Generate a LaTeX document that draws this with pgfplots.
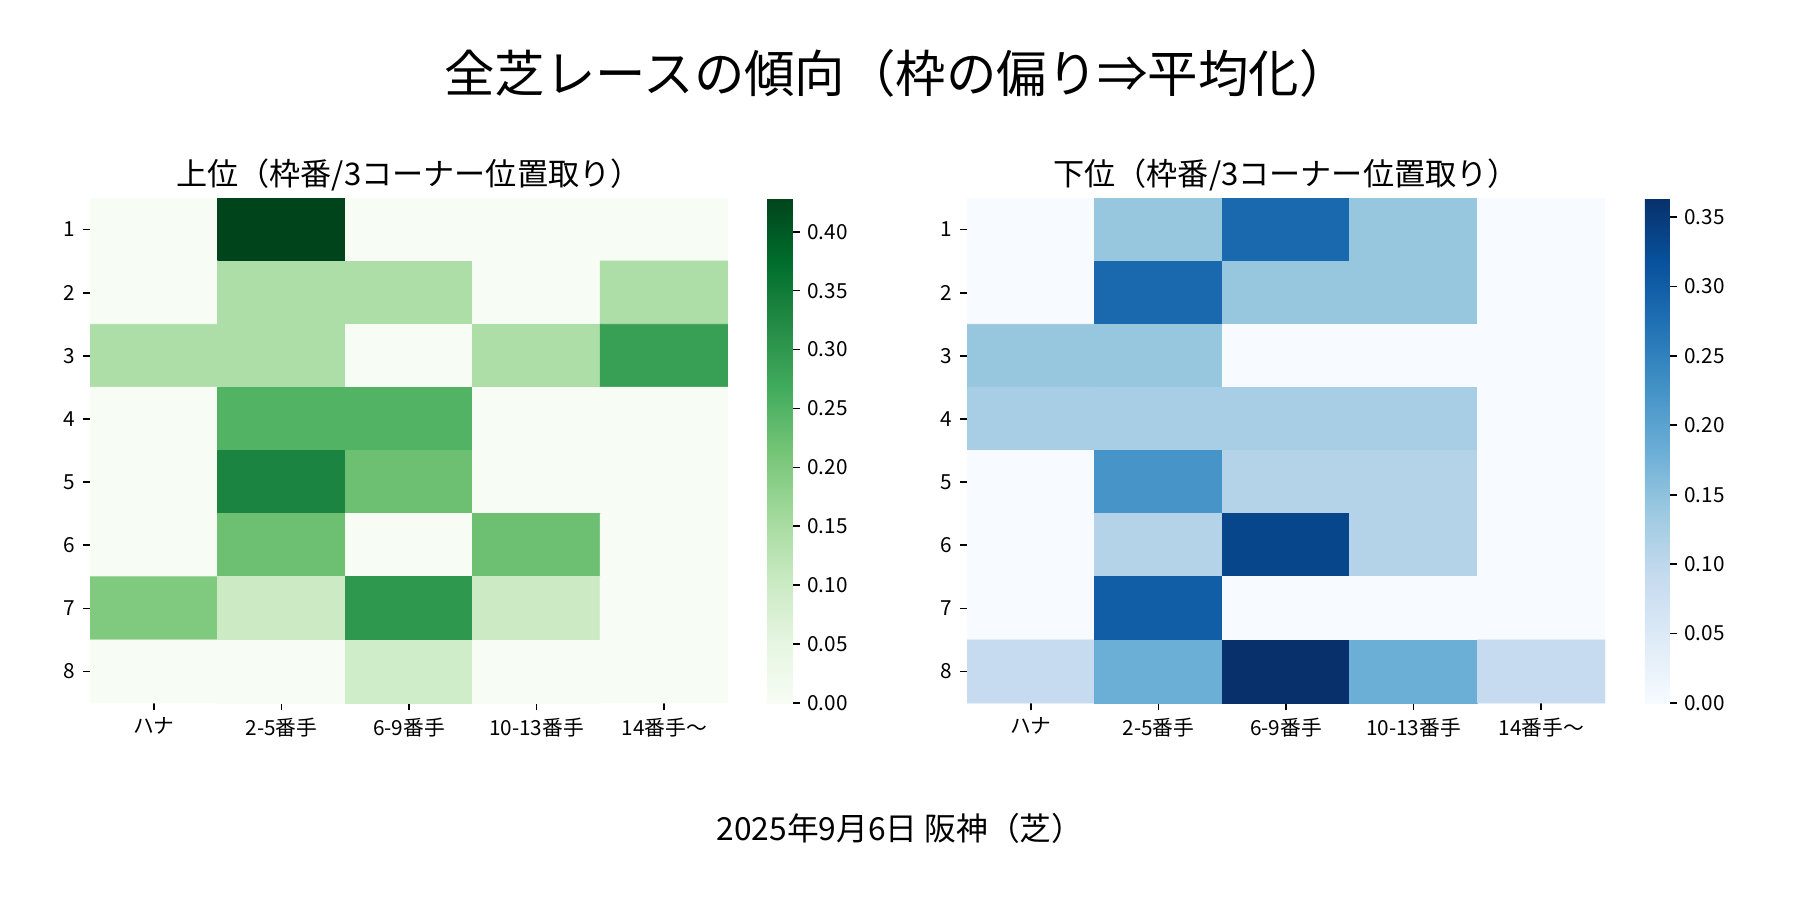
\documentclass[border=0pt]{standalone}
\usepackage{fontspec}
\setmainfont{Noto Sans CJK JP}
\usepackage{pgfplots}
\usepackage{pgfplotstable}
\pgfplotsset{compat=1.18}
\pgfkeys{/pgf/number format/assume math mode=true}
\pgfplotsset{
  colormap={greensmpl}{rgb255=(247,252,245) rgb255=(229,245,224) rgb255=(199,233,192) rgb255=(161,217,155) rgb255=(116,196,118) rgb255=(65,171,93) rgb255=(35,139,69) rgb255=(0,109,44) rgb255=(0,68,27)},
  colormap={bluesmpl}{rgb255=(247,251,255) rgb255=(222,235,247) rgb255=(198,219,239) rgb255=(158,202,225) rgb255=(107,174,214) rgb255=(66,146,198) rgb255=(33,113,181) rgb255=(8,81,156) rgb255=(8,48,107)},
  hm/.style={
    scale only axis, width=4.253in, height=3.367in,
    anchor=south west,
    xmin=-0.5, xmax=4.5, ymin=0.5, ymax=8.5, y dir=reverse,
    enlargelimits=false,
    axis line style={draw=none},
    tick align=outside, xtick pos=left, ytick pos=left,
    xtick={0,...,4},
    xticklabels={ハナ,2-5番手,6-9番手,10-13番手,14番手〜},
    ytick={1,...,8},
    major tick length=3.5pt,
    tick style={black, line width=0.8pt},
    tick label style={font=\fontsize{10}{12}\selectfont},
    title style={font=\fontsize{15}{18}\selectfont, at={(0.5,1)}, anchor=base, yshift=0pt, inner sep=0pt},
    colorbar,
    colorbar style={
      at={(parent axis.north east)}, anchor=north west, xshift=0.147in,
      width=0.167in, scale only axis,
      axis line style={draw=none},
      tick align=outside, major tick length=3.5pt,
      tick style={black, line width=0.8pt},
      ytick pos=right, yticklabel pos=right,
      yticklabel style={font=\fontsize{10}{12}\selectfont, /pgf/number format/.cd, fixed, fixed zerofill, precision=2},
    },
  },
}
\pgfplotstableread{
x y c
0 1 0
1 1 0.4286
2 1 0
3 1 0
4 1 0
0 2 0
1 2 0.1429
2 2 0.1429
3 2 0
4 2 0.1429
0 3 0.1429
1 3 0.1429
2 3 0
3 3 0.1429
4 3 0.2857
0 4 0
1 4 0.25
2 4 0.25
3 4 0
4 4 0
0 5 0
1 5 0.3333
2 5 0.2222
3 5 0
4 5 0
0 6 0
1 6 0.2222
2 6 0
3 6 0.2222
4 6 0
0 7 0.2
1 7 0.098
2 7 0.3
3 7 0.098
4 7 0
0 8 0
1 8 0
2 8 0.0909
3 8 0
4 8 0
}\tabUpper
\pgfplotstableread{
x y c
0 1 0
1 1 0.1429
2 1 0.2857
3 1 0.1429
4 1 0
0 2 0
1 2 0.2857
2 2 0.1429
3 2 0.1429
4 2 0
0 3 0.1429
1 3 0.1429
2 3 0
3 3 0
4 3 0
0 4 0.125
1 4 0.125
2 4 0.125
3 4 0.125
4 4 0
0 5 0
1 5 0.2222
2 5 0.1111
3 5 0.1111
4 5 0
0 6 0
1 6 0.1111
2 6 0.3333
3 6 0.1111
4 6 0
0 7 0
1 7 0.3
2 7 0
3 7 0
4 7 0
0 8 0.0909
1 8 0.1818
2 8 0.3636
3 8 0.1818
4 8 0.0909
}\tabLower
\begin{document}
\begin{tikzpicture}
\useasboundingbox (0,0) rectangle (12in,6in);
\node[font=\fontsize{24.3}{28}\selectfont] at (5.98in,5.513in) {全芝レースの傾向（枠の偏り⇒平均化）};
\node[font=\fontsize{15.3}{18}\selectfont] at (6in,0.477in) {2025年9月6日 阪神（芝）};
\begin{axis}[hm, at={(0.6in,1.313in)},
  colormap name=greensmpl, point meta min=0, point meta max=0.4286,
  title={上位（枠番/3コーナー位置取り）},
  colorbar style={ytick={0,0.05,...,0.41}}]
\addplot[matrix plot*, mesh/cols=5, point meta=explicit] table[meta=c] {\tabUpper};
\end{axis}
\begin{axis}[hm, at={(6.447in,1.313in)},
  colormap name=bluesmpl, point meta min=0, point meta max=0.3636,
  title={下位（枠番/3コーナー位置取り）},
  colorbar style={ytick={0,0.05,...,0.36}}]
\addplot[matrix plot*, mesh/cols=5, point meta=explicit] table[meta=c] {\tabLower};
\end{axis}
\end{tikzpicture}
\end{document}
